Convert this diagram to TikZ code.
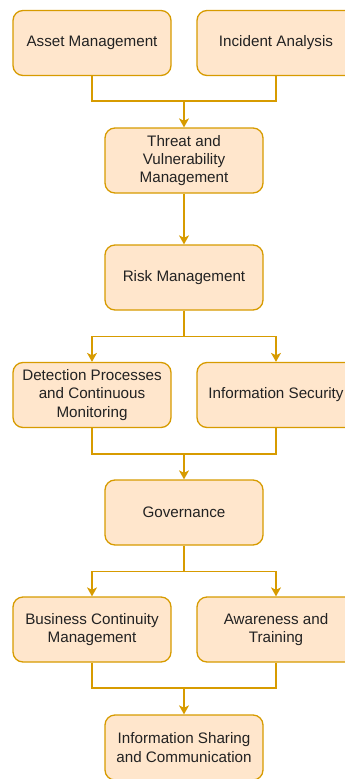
\documentclass[tikz,border=0pt]{standalone}
\usepackage{fontspec}
\setmainfont{Liberation Sans}
\usetikzlibrary{arrows.meta}
\definecolor{boxfill}{HTML}{FFE6CC}
\definecolor{boxline}{HTML}{D79B00}
\definecolor{txt}{HTML}{222222}
\begin{document}
\begin{tikzpicture}[x=1pt,y=-1pt,
  box/.style={draw=boxline, fill=boxfill, line width=1.3pt, rounded corners=10pt,
    minimum width=158pt, minimum height=65pt, align=center, inner sep=2pt,
    text=txt, font=\fontsize{15.2}{18.3}\selectfont},
  link/.style={draw=boxline, line width=1.3pt},
  arr/.style={link, -{Stealth[length=9pt,width=10pt,inset=2.5pt]}}]
\useasboundingbox (0,0) rectangle (345,779);
\node[box] (asset) at (92,43) {Asset Management};
\node[box] (incident) at (276,43) {Incident Analysis};
\node[box] (threat) at (184,160.5) {Threat and\\Vulnerability\\Management};
\node[box] (risk) at (184,277.5) {Risk Management};
\node[box] (detect) at (92,395) {Detection Processes\\and Continuous\\Monitoring};
\node[box] (infosec) at (276,395) {Information Security};
\node[box] (gov) at (184,512.5) {Governance};
\node[box] (bcm) at (92,629.5) {Business Continuity\\Management};
\node[box] (aware) at (276,629.5) {Awareness and\\Training};
\node[box] (share) at (184,747.5) {Information Sharing\\and Communication};
\coordinate (j1) at (184,101);
\coordinate (j2) at (184,336.5);
\coordinate (j3) at (184,454);
\coordinate (j4) at (184,571.5);
\coordinate (j5) at (184,688);
\draw[link] (asset.south) |- (j1) -| (incident.south);
\draw[arr] (j1) -- (threat.north);
\draw[arr] (threat.south) -- (risk.north);
\draw[link] (risk.south) -- (j2);
\draw[arr] (j2) -| (detect.north);
\draw[arr] (j2) -| (infosec.north);
\draw[link] (detect.south) |- (j3) -| (infosec.south);
\draw[arr] (j3) -- (gov.north);
\draw[link] (gov.south) -- (j4);
\draw[arr] (j4) -| (bcm.north);
\draw[arr] (j4) -| (aware.north);
\draw[link] (bcm.south) |- (j5) -| (aware.south);
\draw[arr] (j5) -- (share.north);
\end{tikzpicture}
\end{document}
